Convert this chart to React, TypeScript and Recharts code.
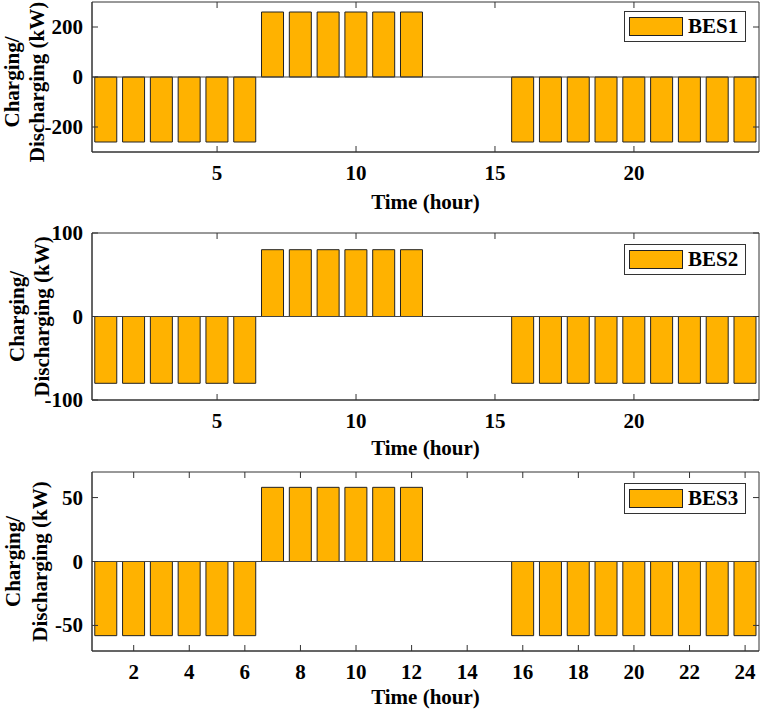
import React from 'react';
import { BarChart, Bar, XAxis, YAxis, ReferenceLine, ReferenceArea, Legend } from 'recharts';

const hours = [1, 2, 3, 4, 5, 6, 7, 8, 9, 10, 11, 12, 13, 14, 15, 16, 17, 18, 19, 20, 21, 22, 23, 24];
const bes1 = [-260, -260, -260, -260, -260, -260, 260, 260, 260, 260, 260, 260, 0, 0, 0, -260, -260, -260, -260, -260, -260, -260, -260, -260];
const bes2 = [-80, -80, -80, -80, -80, -80, 80, 80, 80, 80, 80, 80, 0, 0, 0, -80, -80, -80, -80, -80, -80, -80, -80, -80];
const bes3 = [-58, -58, -58, -58, -58, -58, 58, 58, 58, 58, 58, 58, 0, 0, 0, -58, -58, -58, -58, -58, -58, -58, -58, -58];

const xTicksCoarse = [5, 10, 15, 20];
const xTicksFine = [2, 4, 6, 8, 10, 12, 14, 16, 18, 20, 22, 24];
const yTicks1 = [-200, 0, 200];
const yTicks2 = [-100, 0, 100];
const yTicks3 = [-50, 0, 50];
const yDomain1: [number, number] = [-300, 300];
const yDomain2: [number, number] = [-100, 100];
const yDomain3: [number, number] = [-70, 70];

const FONT = '"Liberation Serif", "Times New Roman", serif';
const FS = 21;
const FRAME = '#333333';
const BAR = '#FFB200';
const TICK_LEN = 6;
const CHART_W = 761;
const M_RIGHT = 2;
const Y_AXIS_W = 92;

type PanelProps = {
  top: number;
  height: number;
  marginTop: number;
  xAxisHeight: number;
  values: number[];
  name: string;
  xTicks: number[];
  yTicks: number[];
  yDomain: [number, number];
  xLabelOffset: number;
  yLabelX: [number, number];
  yLabelDy: number;
  legendDy: number;
};

function Panel({ top, height, marginTop, xAxisHeight, values, name, xTicks, yTicks, yDomain, xLabelOffset, yLabelX, yLabelDy, legendDy }: PanelProps) {
  const data = hours.map((h, i) => ({ hour: h, v: values[i] }));
  const plotH = height - marginTop - xAxisHeight;
  const plotRight = CHART_W - M_RIGHT;

  const XTick = (p: any) => {
    const x = p.x;
    const yb = p.y;
    const yt = yb - plotH;
    return (
      <g>
        <line x1={x} x2={x} y1={yb} y2={yb - TICK_LEN} stroke={FRAME} />
        <line x1={x} x2={x} y1={yt} y2={yt + TICK_LEN} stroke={FRAME} />
        <text
          x={x}
          y={yb + 28}
          textAnchor="middle"
          fontFamily={FONT}
          fontSize={FS}
          fontWeight={700}
          fill="#000"
        >
          {p.payload.value}
        </text>
      </g>
    );
  };

  const YTick = (p: any) => {
    const x = p.x;
    const y = p.y;
    return (
      <g>
        <line x1={x} x2={x + TICK_LEN} y1={y} y2={y} stroke={FRAME} />
        <line x1={plotRight} x2={plotRight - TICK_LEN} y1={y} y2={y} stroke={FRAME} />
        <text
          x={x - 9}
          y={y + 7}
          textAnchor="end"
          fontFamily={FONT}
          fontSize={FS}
          fontWeight={700}
          fill="#000"
        >
          {p.payload.value}
        </text>
      </g>
    );
  };

  return (
    <div style={{ position: 'absolute', left: 0, top, width: CHART_W, height }}>
      <BarChart
        width={CHART_W}
        height={height}
        data={data}
        margin={{ top: marginTop, right: M_RIGHT, left: 0, bottom: 0 }}
        barCategoryGap="10%"
      >
        <XAxis
          xAxisId="b"
          dataKey="hour"
          ticks={xTicks}
          interval={0}
          height={xAxisHeight}
          tickSize={0}
          tickMargin={0}
          tickLine={false}
          tick={XTick}
          axisLine={{ stroke: FRAME }}
          label={{
            content: (p: any) => {
              const vb = p.viewBox || {};
              return (
                <text
                  x={vb.x + vb.width / 2}
                  y={vb.y + xLabelOffset}
                  textAnchor="middle"
                  dominantBaseline="central"
                  fontFamily={FONT}
                  fontSize={FS}
                  fontWeight={700}
                  fill="#000"
                >
                  Time (hour)
                </text>
              );
            },
          }}
        />
        <YAxis
          yAxisId="l"
          type="number"
          domain={yDomain}
          ticks={yTicks}
          interval={0}
          allowDataOverflow
          width={Y_AXIS_W}
          tickSize={0}
          tickMargin={0}
          tickLine={false}
          tick={YTick}
          axisLine={{ stroke: FRAME }}
          label={{
            content: (p: any) => {
              const vb = p.viewBox || {};
              const cy = vb.y + vb.height / 2 + yLabelDy;
              return (
                <g>
                  <text
                    x={yLabelX[0]}
                    y={cy}
                    transform={`rotate(-90, ${yLabelX[0]}, ${cy})`}
                    textAnchor="middle"
                    dominantBaseline="central"
                    fontFamily={FONT}
                    fontSize={FS}
                    fontWeight={700}
                    fill="#000"
                  >
                    Charging/
                  </text>
                  <text
                    x={yLabelX[1]}
                    y={cy}
                    transform={`rotate(-90, ${yLabelX[1]}, ${cy})`}
                    textAnchor="middle"
                    dominantBaseline="central"
                    fontFamily={FONT}
                    fontSize={FS}
                    fontWeight={700}
                    fill="#000"
                  >
                    Discharging (kW)
                  </text>
                </g>
              );
            },
          }}
        />
        <Legend
          layout="horizontal"
          verticalAlign="middle"
          align="center"
          wrapperStyle={{ position: 'absolute', left: 624, top: marginTop + legendDy, width: 122, height: 31 }}
          content={() => (
            <div
              style={{
                boxSizing: 'border-box',
                width: 122,
                height: 31,
                border: `1px solid ${FRAME}`,
                background: '#fff',
                position: 'relative',
              }}
            >
              <div
                style={{
                  position: 'absolute',
                  left: 4,
                  top: 5,
                  width: 54,
                  height: 19,
                  boxSizing: 'border-box',
                  background: BAR,
                  border: '1px solid #222',
                }}
              />
              <div
                style={{
                  position: 'absolute',
                  left: 63,
                  top: 0,
                  height: 29,
                  lineHeight: '29px',
                  fontFamily: FONT,
                  fontSize: FS,
                  fontWeight: 700,
                  color: '#000',
                }}
              >
                {name}
              </div>
            </div>
          )}
        />
        <ReferenceArea
          xAxisId="b"
          yAxisId="l"
          x1={hours[0]}
          x2={hours[hours.length - 1]}
          y1={yDomain[0]}
          y2={yDomain[1]}
          fill="none"
          fillOpacity={0}
          stroke={FRAME}
          strokeWidth={1}
          ifOverflow="extendDomain"
        />
        <ReferenceLine yAxisId="l" xAxisId="b" y={0} stroke="#444" strokeWidth={1} />
        <Bar
          xAxisId="b"
          yAxisId="l"
          dataKey="v"
          name={name}
          fill={BAR}
          stroke="#222"
          strokeWidth={1}
          isAnimationActive={false}
        />
      </BarChart>
    </div>
  );
}

export default function App() {
  return (
    <div style={{ position: 'absolute', left: 0, top: 0, width: 761, height: 710, background: '#fff' }}>
      <Panel
        top={0}
        height={225}
        marginTop={2}
        xAxisHeight={73}
        values={bes1}
        name="BES1"
        xTicks={xTicksCoarse}
        yTicks={yTicks1}
        yDomain={yDomain1}
        xLabelOffset={50}
        yLabelX={[12, 37]}
        yLabelDy={5}
        legendDy={9}
      />
      <Panel
        top={213}
        height={257}
        marginTop={20}
        xAxisHeight={70}
        values={bes2}
        name="BES2"
        xTicks={xTicksCoarse}
        yTicks={yTicks2}
        yDomain={yDomain2}
        xLabelOffset={48}
        yLabelX={[17, 42]}
        yLabelDy={0}
        legendDy={11}
      />
      <Panel
        top={452}
        height={258}
        marginTop={20}
        xAxisHeight={59}
        values={bes3}
        name="BES3"
        xTicks={xTicksFine}
        yTicks={yTicks3}
        yDomain={yDomain3}
        xLabelOffset={46}
        yLabelX={[13, 40]}
        yLabelDy={0}
        legendDy={11}
      />
    </div>
  );
}
